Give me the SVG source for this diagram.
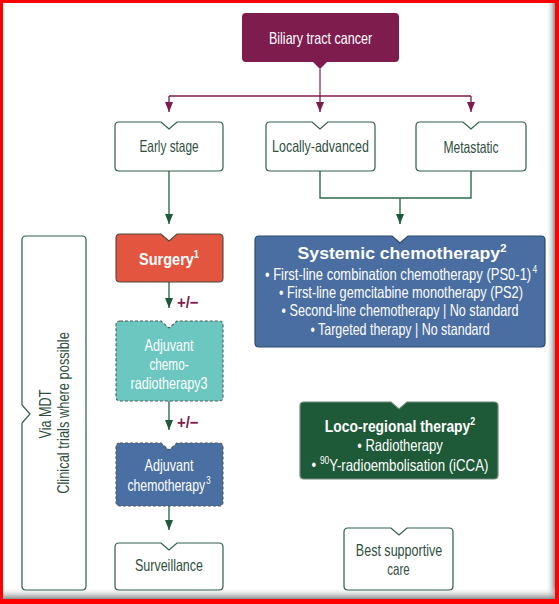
<svg xmlns="http://www.w3.org/2000/svg" width="559" height="604" viewBox="0 0 559 604">
<defs>
<style>
text{font-family:"Liberation Sans",Arial,sans-serif;font-size:16.5px;text-anchor:middle;dominant-baseline:central}
.out{fill:#fff;stroke:#2E5E48;stroke-width:1.2}
.gt{fill:#2F4F3E}
.wt{fill:#fff}
.b{font-weight:bold}
.dash{stroke:#4f5a58;stroke-width:1.1;stroke-dasharray:3 2}
.gl{fill:none;stroke:#2E6B4C;stroke-width:1.4}
.ml{fill:none;stroke:#7E1C4E;stroke-width:1.3}
.pm{fill:#7E1C4E;font-weight:bold;text-anchor:start}
.sup{font-size:10.5px}
</style>
<marker id="ag" viewBox="0 0 10 8" refX="10" refY="4" markerWidth="10" markerHeight="8" markerUnits="userSpaceOnUse" orient="auto"><path d="M0,0 L10,4 L0,8 Z" fill="#1E5A3A"/></marker>
<marker id="am" viewBox="0 0 10 8" refX="10" refY="4" markerWidth="10" markerHeight="8" markerUnits="userSpaceOnUse" orient="auto"><path d="M0,0 L10,4 L0,8 Z" fill="#7E1C4E"/></marker>
<linearGradient id="shr" x1="0" y1="0" x2="1" y2="0"><stop offset="0" stop-color="#fff" stop-opacity="0"/><stop offset="1" stop-color="#8a8f8d"/></linearGradient>
<linearGradient id="shb" x1="0" y1="0" x2="0" y2="1"><stop offset="0" stop-color="#fff" stop-opacity="0"/><stop offset="1" stop-color="#8a8f8d"/></linearGradient>
</defs>
<rect x="0" y="0" width="559" height="604" fill="#f00"/>
<rect x="3" y="3" width="552" height="596" fill="#fff"/>
<rect x="546" y="3" width="9" height="596" fill="url(#shr)"/>
<rect x="3" y="587" width="552" height="12" fill="url(#shb)"/>

<g id="connectors">
<path d="M320,69 V96" fill="none" stroke="#B27A98" stroke-width="2"/>
<path class="ml" d="M169,96 H471"/>
<path class="ml" d="M169,96 V112" marker-end="url(#am)"/>
<path class="ml" d="M320,96 V112" marker-end="url(#am)"/>
<path class="ml" d="M471,96 V112" marker-end="url(#am)"/>
<path class="gl" d="M169,171 V224" marker-end="url(#ag)"/>
<path class="gl" d="M320,171 V198 H471 V171"/>
<path class="gl" d="M400,198 V224" marker-end="url(#ag)"/>
<path class="gl" d="M169,282 V308" marker-end="url(#ag)"/>
<path class="gl" d="M169,401 V430" marker-end="url(#ag)"/>
<path class="gl" d="M169,506 V530" marker-end="url(#ag)"/>
<text class="pm" transform="translate(177,302) scale(0.8,1)" textLength="27" lengthAdjust="spacingAndGlyphs">+/−</text>
<text class="pm" transform="translate(177,422) scale(0.8,1)" textLength="27" lengthAdjust="spacingAndGlyphs">+/−</text>
</g>

<g id="biliary">
<path d="M246,13 H395 Q399,13 399,17 V58 Q399,62 395,62 H327 L320,69 L313,62 H246 Q242,62 242,58 V17 Q242,13 246,13 Z" fill="#7E1C4E"/>
<text class="wt" transform="translate(320.5,38) scale(0.8,1)" textLength="129" lengthAdjust="spacingAndGlyphs">Biliary tract cancer</text>
</g>

<g id="early">
<path class="out" d="M119,122 H161 L169,129 L177,122 H219 Q223,122 223,126 V167 Q223,171 219,171 H119 Q115,171 115,167 V126 Q115,122 119,122 Z"/>
<text class="gt" transform="translate(169,146) scale(0.8,1)" textLength="74" lengthAdjust="spacingAndGlyphs">Early stage</text>
</g>

<g id="locally">
<path class="out" d="M270,122 H312 L320,129 L328,122 H371 Q375,122 375,126 V167 Q375,171 371,171 H270 Q266,171 266,167 V126 Q266,122 270,122 Z"/>
<text class="gt" transform="translate(320.5,146) scale(0.8,1)" textLength="121" lengthAdjust="spacingAndGlyphs">Locally-advanced</text>
</g>

<g id="metastatic">
<path class="out" d="M420,122 H463 L471,129 L479,122 H522 Q526,122 526,126 V167 Q526,171 522,171 H420 Q416,171 416,167 V126 Q416,122 420,122 Z"/>
<text class="gt" transform="translate(471,147) scale(0.8,1)" textLength="69" lengthAdjust="spacingAndGlyphs">Metastatic</text>
</g>

<g id="mdt">
<path class="out" fill="none" d="M26,236 H82 Q86,236 86,240 V586 Q86,590 82,590 H26 Q22,590 22,586 V423 L30,414 L22,405 V240 Q22,236 26,236 Z"/>
<text class="gt" transform="translate(45,414) rotate(-90) scale(0.8,1)" textLength="61" lengthAdjust="spacingAndGlyphs">Via MDT</text>
<text class="gt" transform="translate(63,413) rotate(-90) scale(0.8,1)" textLength="202" lengthAdjust="spacingAndGlyphs">Clinical trials where possible</text>
</g>

<g id="surgery">
<path d="M120,234 H161 L169,241 L177,234 H219 Q223,234 223,238 V278 Q223,282 219,282 H120 Q116,282 116,278 V238 Q116,234 120,234 Z" fill="#E4553F" stroke="#4D4A3E" stroke-width="1.1"/>
<text class="wt b" transform="translate(169,259) scale(0.8,1)" textLength="75" lengthAdjust="spacingAndGlyphs">Surgery<tspan class="sup" dy="-5">1</tspan></text>
</g>

<g id="adjcrt">
<path class="dash" d="M120,321 H161 L169,328 L177,321 H219 Q223,321 223,325 V397 Q223,401 219,401 H120 Q116,401 116,397 V325 Q116,321 120,321 Z" fill="#6CC7C0"/>
<text class="wt" transform="translate(169,345) scale(0.8,1)" textLength="61" lengthAdjust="spacingAndGlyphs">Adjuvant</text>
<text class="wt" transform="translate(169,364) scale(0.8,1)" textLength="49" lengthAdjust="spacingAndGlyphs">chemo-</text>
<text class="wt" transform="translate(169,383) scale(0.8,1)" textLength="96" lengthAdjust="spacingAndGlyphs">radiotherapy3</text>
</g>

<g id="adjct">
<path class="dash" d="M120,443 H161 L169,450 L177,443 H219 Q223,443 223,447 V502 Q223,506 219,506 H120 Q116,506 116,502 V447 Q116,443 120,443 Z" fill="#4A6FA3"/>
<text class="wt" transform="translate(169,465) scale(0.8,1)" textLength="61" lengthAdjust="spacingAndGlyphs">Adjuvant</text>
<text class="wt" transform="translate(169,485) scale(0.8,1)" textLength="104" lengthAdjust="spacingAndGlyphs">chemotherapy<tspan class="sup" dx="1.5" dy="-5">3</tspan></text>
</g>

<g id="surveillance">
<path class="out" d="M119,543 H161 L169,550 L177,543 H219 Q223,543 223,547 V586 Q223,590 219,590 H119 Q115,590 115,586 V547 Q115,543 119,543 Z"/>
<text class="gt" transform="translate(169,565) scale(0.8,1)" textLength="85" lengthAdjust="spacingAndGlyphs">Surveillance</text>
</g>

<g id="systemic">
<path d="M259,236 H392 L400,243 L408,236 H541 Q545,236 545,240 V343 Q545,347 541,347 H259 Q255,347 255,343 V240 Q255,236 259,236 Z" fill="#4A6EA2" stroke="#2D4A6B" stroke-width="1.2"/>
<text class="wt b" transform="translate(402,253) scale(0.8,1)" textLength="261" lengthAdjust="spacingAndGlyphs">Systemic chemotherapy<tspan class="sup" dy="-5">2</tspan></text>
<text class="wt" transform="translate(401,274) scale(0.8,1)" textLength="340" lengthAdjust="spacingAndGlyphs">• First-line combination chemotherapy (PS0-1)<tspan class="sup" dx="1.5" dy="-5">4</tspan></text>
<text class="wt" transform="translate(401,292) scale(0.8,1)" textLength="305" lengthAdjust="spacingAndGlyphs">• First-line gemcitabine monotherapy (PS2)</text>
<text class="wt" transform="translate(400,310) scale(0.8,1)" textLength="296" lengthAdjust="spacingAndGlyphs">• Second-line chemotherapy | No standard</text>
<text class="wt" transform="translate(400,329) scale(0.8,1)" textLength="224" lengthAdjust="spacingAndGlyphs">• Targeted therapy | No standard</text>
</g>

<g id="loco">
<path d="M304,402 H391 L399,409 L407,402 H494 Q498,402 498,406 V475 Q498,479 494,479 H304 Q300,479 300,475 V406 Q300,402 304,402 Z" fill="#1E5A37" stroke="#6d8a78" stroke-width="1.2"/>
<text class="wt b" transform="translate(400,426) scale(0.8,1)" textLength="188" lengthAdjust="spacingAndGlyphs">Loco-regional therapy<tspan class="sup" dy="-5">2</tspan></text>
<text class="wt" transform="translate(400,445) scale(0.8,1)" textLength="107" lengthAdjust="spacingAndGlyphs">• Radiotherapy</text>
<text class="wt" transform="translate(400,464) scale(0.8,1)" textLength="221" lengthAdjust="spacingAndGlyphs">• <tspan class="sup" dy="-4">90</tspan><tspan dy="4">Y-radioembolisation (iCCA)</tspan></text>
</g>

<g id="bsc">
<path class="out" d="M348,528 H391 L399,535 L407,528 H449 Q453,528 453,532 V586 Q453,590 449,590 H348 Q344,590 344,586 V532 Q344,528 348,528 Z"/>
<text class="gt" transform="translate(399,550) scale(0.8,1)" textLength="108" lengthAdjust="spacingAndGlyphs">Best supportive</text>
<text class="gt" transform="translate(398.5,569) scale(0.8,1)" textLength="28" lengthAdjust="spacingAndGlyphs">care</text>
</g>
</svg>
